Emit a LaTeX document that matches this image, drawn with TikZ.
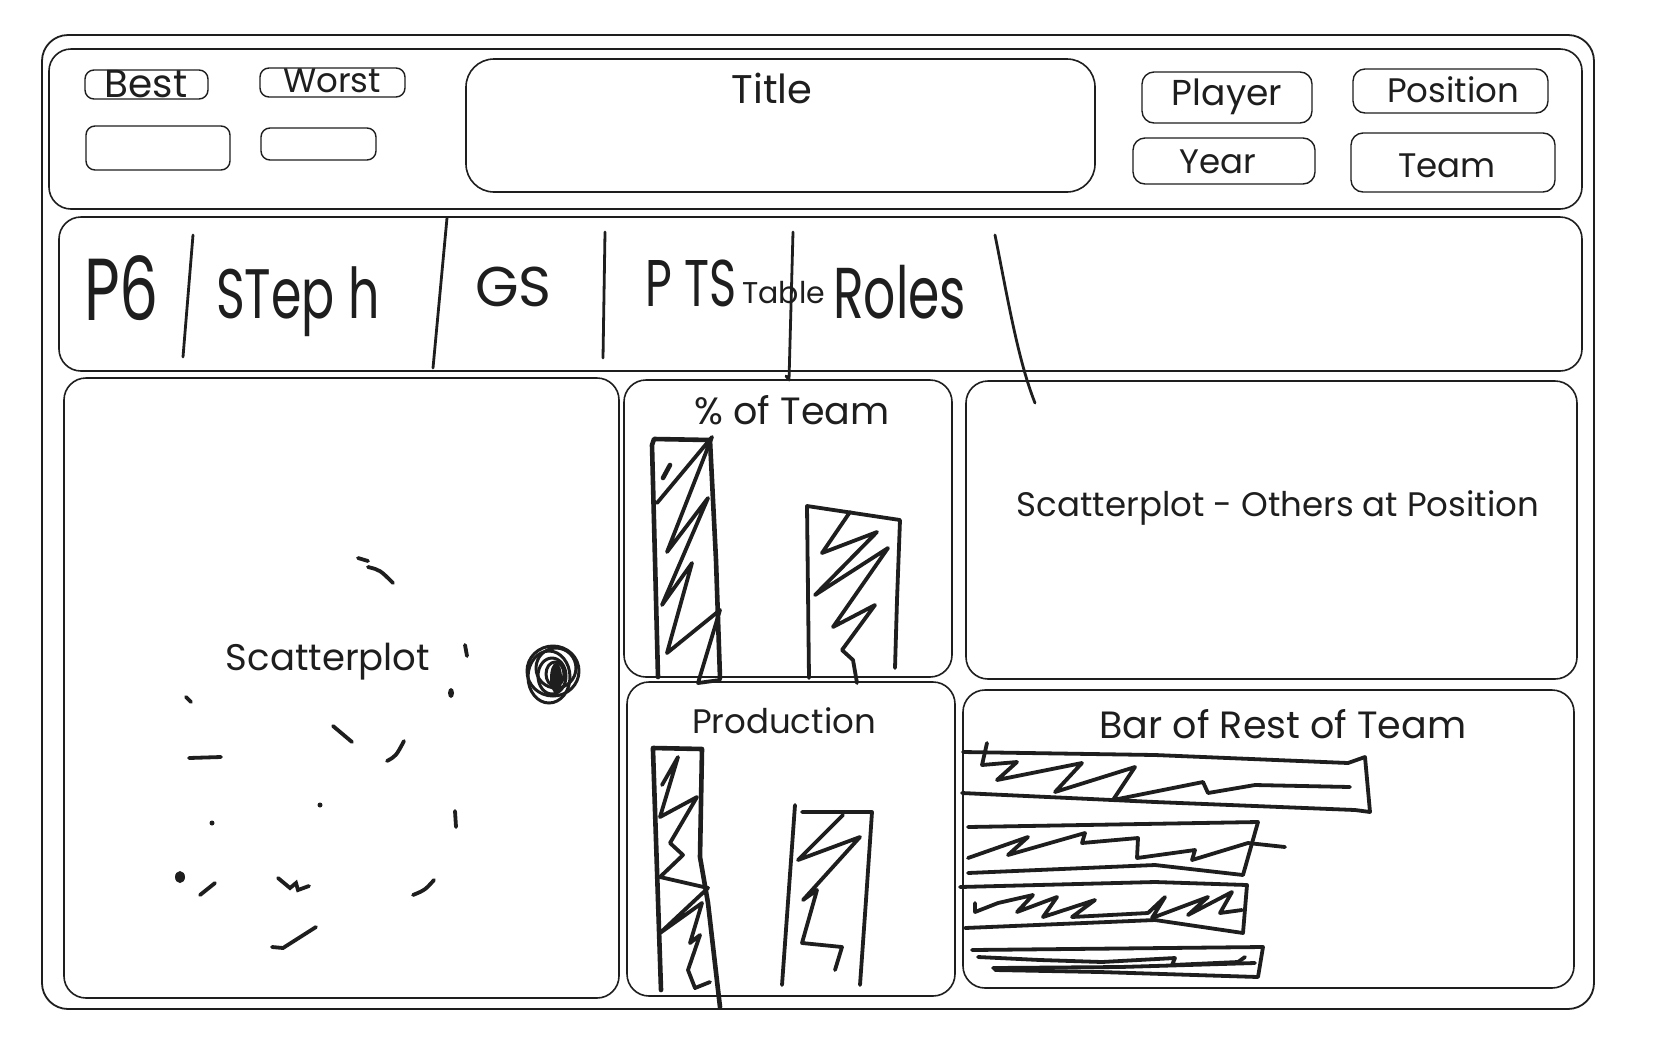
\documentclass[tikz,border=0pt]{standalone}
\usepackage{fontspec}
\setmainfont{Poppins}
\newfontfamily\handfont[FakeStretch=0.7]{Poppins}
\usepackage{xcolor}
\usepackage{tikz}
\definecolor{ink}{HTML}{1E1E1E}
\definecolor{paper}{HTML}{FFFFFF}
\tikzset{
  outer/.style={draw=ink, line width=1.8pt, rounded corners=26pt},
  panel/.style={draw=ink, line width=1.6pt, rounded corners=22pt},
  btn/.style={draw=ink, line width=1.4pt, rounded corners=9pt},
  lab/.style={text=ink, font=\fontsize{34}{38}\selectfont, inner sep=0pt},
  labs/.style={text=ink, font=\fontsize{30}{34}\selectfont, inner sep=0pt},
  hand/.style={text=ink, inner sep=0pt, anchor=base west},
  pen/.style={draw=ink, line width=4.6pt, line cap=round, line join=round},
  stroke/.style={draw=ink, line width=3.8pt, line cap=round, line join=round},
  dab/.style={draw=ink, line width=3.8pt, line cap=round},
}

\begin{document}
\begin{tikzpicture}[x=1pt,y=-1pt]
  \useasboundingbox[fill=paper] (0,0) rectangle (1654,1045);
  \draw[outer] (42,35) rectangle (1594,1009);

  % header: filters and title
  \draw[panel] (49,49) rectangle (1582,209);
  \draw[btn] (85,70) rectangle (208,99);
  \node[lab, font=\fontsize{39}{42}\selectfont] (best) at (146,84) {Best};
  \draw[btn] (260,68) rectangle (405,97);
  \node[lab] (worst) at (332,81) {Worst};
  \draw[btn] (86,126) rectangle (230,170);
  \draw[btn] (261,128) rectangle (376,160);
  \draw[panel, rounded corners=28pt] (466,59) rectangle (1095,192);
  \node[lab, font=\fontsize{40}{44}\selectfont] (title) at (772,88) {Title};
  \draw[btn, rounded corners=12pt] (1142,72) rectangle (1312,123);
  \node[lab, font=\fontsize{36}{40}\selectfont] (player) at (1227,97) {Player};
  \draw[btn, rounded corners=12pt] (1353,69) rectangle (1548,113);
  \node[lab] (position) at (1453,90) {Position};
  \draw[btn, rounded corners=12pt] (1133,138) rectangle (1315,184);
  \node[lab] (year) at (1218,162) {Year};
  \draw[btn, rounded corners=12pt] (1351,133) rectangle (1555,192);
  \node[lab] (team) at (1447,166) {Team};

  % table strip
  \draw[panel] (59,217) rectangle (1582,371);
  \draw[stroke, line width=2.8pt] (193,235) -- (183,357);
  \draw[stroke, line width=2.8pt] (447,218) -- (433,368);
  \draw[stroke, line width=2.8pt] (605,232) -- (603,358);
  \draw[stroke, line width=2.8pt] (793,232) -- (789,380) -- (786,376);
  \draw[stroke, line width=2.8pt] (995,235) .. controls (1008,300) and (1018,360) .. (1035,403);
  \node[hand, font=\handfont\fontsize{88}{88}\selectfont] (tagpos) at (84,320) {P6};
  \node[hand, font=\handfont\fontsize{70}{70}\selectfont] (tagname) at (216,318) {STep h};
  \node[hand, font=\fontsize{56}{56}\selectfont] (tagteam) at (475,306) {GS};
  \node[hand, font=\handfont\fontsize{66}{66}\selectfont] (tagstat) at (645,306) {P TS};
  \node[labs, anchor=base west] (tagtable) at (742,303) {Table};
  \node[hand, font=\handfont\fontsize{72}{72}\selectfont] (tagroles) at (833,318) {Roles};

  % main panels
  \draw[panel] (64,378) rectangle (619,998);
  \node[lab, font=\fontsize{37}{40}\selectfont] (scatter) at (328,662) {Scatterplot};
  \draw[panel] (624,380) rectangle (952,677);
  \node[lab, font=\fontsize{38}{42}\selectfont] (pctteam) at (792,410) {\% of Team};
  \draw[panel] (966,381) rectangle (1577,679);
  \node[lab] (others) at (1278,508) {Scatterplot - Others at Position};
  \draw[panel] (627,682) rectangle (955,996);
  \node[lab] (production) at (784,721) {Production};
  \draw[panel] (963,690) rectangle (1574,988);
  \node[lab, font=\fontsize{38}{42}\selectfont] (restteam) at (1283,724) {Bar of Rest of Team};

  % scatter dots
  \draw[dab] (358,558) -- (368,561);
  \draw[dab] (368,567) .. controls (380,570) .. (393,583);
  \draw[dab] (465,645) -- (467,656);
  \fill[ink] (451,693) ellipse (3 and 5);
  \draw[dab] (186,697) -- (191,702);
  \draw[dab] (333,726) -- (352,742);
  \draw[dab] (387,761) .. controls (396,756) .. (404,741);
  \draw[dab] (189,758) -- (221,757);
  \fill[ink] (320,805) circle (2.5);
  \fill[ink] (212,823) circle (2.5);
  \draw[dab] (455,811) -- (456,827);
  \fill[ink] (180,877) ellipse (5 and 6);
  \draw[dab] (200,895) -- (215,883);
  \draw[dab] (278,878) -- (290,888) -- (296,883) -- (298,890) -- (309,886);
  \draw[dab] (413,895) .. controls (425,890) .. (434,880);
  \draw[dab] (272,947) -- (283,948) -- (316,927);
  \draw[stroke, line width=3pt] (553,671) ellipse (26 and 25);
  \draw[stroke, line width=3pt] (549,677) ellipse (21 and 26);
  \draw[stroke, line width=3pt] (556,668) ellipse (20 and 20);
  \draw[stroke, line width=3pt] (552,676) ellipse (14 and 18);
  \draw[stroke, line width=3pt] (555,674) ellipse (9 and 12);
  \fill[ink] (556,678) ellipse (6 and 15);

  % % of team bars
  \draw[pen] (658,677) -- (655,560) -- (652,445) -- (654,439) -- (710,440) -- (716,560) -- (720,678);
  \draw[pen] (670,465) -- (663,478);
  \draw[stroke] (657,503) -- (712,437) -- (667,552) -- (708,498) -- (662,605) -- (692,563)
    -- (667,653) -- (720,610) -- (698,683) -- (720,680);
  \draw[stroke] (809,678) -- (807,506) -- (900,520) -- (897,600) -- (895,668);
  \draw[stroke] (850,512) -- (822,553) -- (877,532) -- (815,595) -- (888,548) -- (833,627)
    -- (875,605) -- (842,650) -- (853,660) -- (857,683);

  % production bars
  \draw[pen] (661,990) -- (653,750) -- (653,748) -- (702,749) -- (700,857) -- (708,903) -- (720,1007);
  \draw[stroke] (662,785) -- (678,757) -- (660,817) -- (697,797) -- (670,843) -- (683,855)
    -- (660,877) -- (708,888) -- (660,933) -- (702,903) -- (690,943) -- (700,935)
    -- (688,970) -- (695,988) -- (710,982);
  \draw[stroke] (795,805) -- (782,985);
  \draw[stroke] (802,812) -- (872,812) -- (866,900) -- (860,985);
  \draw[stroke] (843,815) -- (798,860) -- (860,837) -- (803,900) -- (817,890) -- (802,943)
    -- (842,947) -- (835,970);

  % rest of team bars
  \draw[stroke] (963,752) -- (1155,755) -- (1348,763) -- (1365,757) -- (1370,812) -- (1355,810)
    -- (1155,802) -- (962,793);
  \draw[stroke] (987,743) -- (982,765) -- (1017,762) -- (997,780) -- (1082,763) -- (1055,792)
    -- (1135,767) -- (1113,800) -- (1203,782) -- (1208,793) -- (1255,785) -- (1350,787);
  \draw[stroke] (968,827) -- (1258,822) -- (1243,875) -- (1155,865) -- (968,873);
  \draw[stroke] (968,858) -- (1028,837) -- (1008,855) -- (1085,833) -- (1082,843) -- (1138,838)
    -- (1137,858) -- (1195,850) -- (1192,860) -- (1248,843) -- (1285,847);
  \draw[stroke] (960,887) -- (1155,882) -- (1247,885) -- (1243,933) -- (1155,920) -- (965,928);
  \draw[stroke] (975,903) -- (975,912) -- (998,903) -- (1033,895) -- (1017,912) -- (1057,897)
    -- (1043,917) -- (1095,900) -- (1072,917) -- (1148,913) -- (1165,897) -- (1152,918)
    -- (1208,897) -- (1188,915) -- (1232,892) -- (1220,913) -- (1242,910);
  \draw[stroke] (972,950) -- (1263,947) -- (1258,977) -- (1100,972) -- (995,970);
  \draw[stroke] (978,957) -- (1040,960) -- (1102,962) -- (1175,958) -- (1172,965) -- (1238,962) -- (1245,957);
  \draw[stroke] (993,968) -- (1120,967) -- (1255,963);
\end{tikzpicture}
\end{document}
